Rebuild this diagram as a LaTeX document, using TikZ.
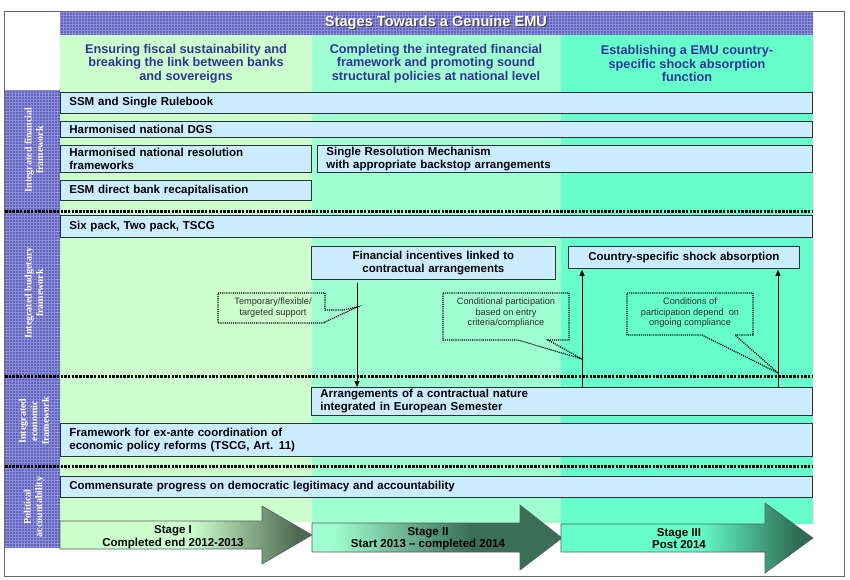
\documentclass[tikz,border=0pt]{standalone}
\usepackage{fontspec}
\setmainfont{Liberation Sans}
\newfontfamily\serifb{Liberation Serif}
\usetikzlibrary{arrows.meta,calc}

\definecolor{colA}{RGB}{204,255,204}
\definecolor{colB}{RGB}{160,255,208}
\definecolor{colC}{RGB}{102,255,204}
\definecolor{boxblue}{RGB}{204,236,255}
\definecolor{purp}{RGB}{98,98,192}
\definecolor{purpline}{RGB}{140,140,215}
\definecolor{headblue}{RGB}{51,51,153}
\definecolor{darkA}{RGB}{80,105,82}
\definecolor{darkB}{RGB}{58,110,86}
\definecolor{darkC}{RGB}{45,108,84}
\definecolor{edge}{RGB}{40,50,60}
\definecolor{calltext}{RGB}{45,45,45}

\pgfdeclarehorizontalshading{stageIsh}{100bp}{color(0bp)=(colA); color(51bp)=(colA); color(72bp)=(darkA); color(100bp)=(darkA)}
\pgfdeclarehorizontalshading{stageIIsh}{100bp}{color(0bp)=(colB); color(29bp)=(colB); color(57bp)=(darkB); color(100bp)=(darkB)}
\pgfdeclarehorizontalshading{stageIIIsh}{100bp}{color(0bp)=(colC); color(52bp)=(colC); color(72bp)=(darkC); color(100bp)=(darkC)}

\begin{document}
\begin{tikzpicture}[x=1pt,y=-1pt,
  box/.style={draw=edge, line width=0.8pt, fill=boxblue, anchor=north west,
    inner xsep=9pt, inner ysep=0pt, align=left,
    font=\fontsize{11.5}{13}\selectfont\bfseries},
  cbox/.style={box, align=center},
  headtext/.style={align=center, text=headblue,
    font=\fontsize{12.7}{13.6}\selectfont\bfseries},
  sidelabel/.style={rotate=90, align=center, text=white,
    font=\serifb\bfseries\fontsize{10}{11.5}\selectfont},
  dotline/.style={line width=3pt, dash pattern=on 2.5pt off 1.2pt},
  callout/.style={line width=1.2pt, dash pattern=on 1.1pt off 1pt, draw=black},
  calltxt/.style={align=center, text=calltext,
    font=\fontsize{9.2}{10.5}\selectfont},
  conn/.style={line width=1pt, -{Triangle[length=6pt,width=5pt]}},
  stagearrow/.style={draw=edge!80, line width=0.6pt},
  stagetext/.style={align=center, font=\fontsize{11.5}{12.5}\selectfont\bfseries}
]
\useasboundingbox (0,0) rectangle (850,579);
\fill[white] (0,0) rectangle (850,579);

% column backgrounds
\fill[colA] (60,35) rectangle (312,522);
\fill[colB] (312,35) rectangle (561,523);
\fill[colC] (561,35) rectangle (813,524);

% purple bands with grid
\fill[purp] (60,11) rectangle (813,35);
\fill[purp] (5,90) rectangle (60,548);
\begin{scope}
  \clip (60,11) rectangle (813,35);
  \draw[purpline, line width=0.45pt, step=3pt] (60,35) grid (813,11);
\end{scope}
\begin{scope}
  \clip (5,90) rectangle (60,548);
  \draw[purpline, line width=0.45pt, step=3pt] (5,548) grid (60,90);
\end{scope}

% outer frame
\draw[black!60, line width=0.8pt] (4,11) rectangle (844,576);

% title
\node[text=black!75, font=\fontsize{14.6}{16}\selectfont\bfseries] (titleshadow) at (437.2,24.2) {Stages Towards a Genuine EMU};
\node[text=white, font=\fontsize{14.6}{16}\selectfont\bfseries] (title) at (436,23) {Stages Towards a Genuine EMU};

% column headers
\node[headtext] (h1) at (186,63.5) {Ensuring fiscal sustainability and\\breaking the link between banks\\and sovereigns};
\node[headtext] (h2) at (436,63.5) {Completing the integrated financial\\framework and promoting sound\\structural policies at national level};
\node[headtext] (h3) at (687,63.5) {Establishing a EMU country-\\specific shock absorption\\function};

% separators
\draw[dotline] (5,211) -- (813,211);
\draw[dotline] (5,376) -- (813,376);
\draw[dotline] (5,466) -- (813,466);

% side labels
\node[sidelabel] (lfin) at (34,150) {Integrated financial\\framework};
\node[sidelabel] (lbud) at (34,293) {Integrated budgetary\\framework};
\node[sidelabel] (leco) at (34,421) {Integrated\\economic\\framework};
\node[sidelabel] (lpol) at (34,507) {Political\\accountability};

% boxes
\node[box, text width=734pt, minimum height=21pt] (ssm) at (60,92) {SSM and Single Rulebook};
\node[box, text width=734pt, minimum height=16pt] (dgs) at (60,121) {Harmonised national DGS};
\node[box, text width=233pt, minimum height=27pt] (hnr) at (60,145) {Harmonised national resolution\\frameworks};
\node[box, text width=477pt, minimum height=27pt] (srm) at (317,145) {Single Resolution Mechanism\\with appropriate backstop arrangements};
\node[box, text width=233pt, minimum height=20pt] (esm) at (60,180) {ESM direct bank recapitalisation};
\node[box, text width=734pt, minimum height=22pt] (six) at (60,215) {Six pack, Two pack, TSCG};
\node[cbox, text width=226pt, minimum height=33pt] (fin) at (311,246) {Financial incentives linked to\\contractual arrangements};
\node[cbox, text width=213pt, minimum height=22pt] (csa) at (568,246) {Country-specific shock absorption};
\node[box, text width=483pt, minimum height=28pt] (arr) at (311,387) {Arrangements of a contractual nature\\integrated in European Semester};
\node[box, text width=734pt, minimum height=33pt] (fea) at (60,423) {Framework for ex-ante coordination of\\economic policy reforms (TSCG, Art. 11)};
\node[box, text width=734pt, minimum height=21pt] (com) at (60,476) {Commensurate progress on democratic legitimacy and accountability};

% connectors
\coordinate (xa) at (357,0);
\coordinate (xb) at (582,0);
\coordinate (xc) at (778,0);
\draw[conn] ($(xa |- fin.south)+(0,3)$) -- (xa |- arr.north);
\draw[conn] (xb |- arr.north) -- ($(xb |- csa.south)+(0,1)$);
\draw[conn] (xc |- arr.north) -- ($(xc |- csa.south)+(0,1)$);

% callouts
\draw[callout] (218,293) -- (325,293) -- (325,310) -- (343,310) -- (357,307) -- (325,322) -- (325,323) -- (218,323) -- cycle;
\node[calltxt] (ct1) at (273,307.5) {Temporary/flexible/\\targeted support};
\draw[callout] (443,293) -- (569,293) -- (569,340) -- (548,340) -- (582,359) -- (518,340) -- (443,340) -- cycle;
\node[calltxt] (ct2) at (506,313) {Conditional participation\\based on entry\\criteria/compliance};
\draw[callout] (627,293) -- (753,293) -- (753,335) -- (735,335) -- (778,373) -- (702,335) -- (627,335) -- cycle;
\node[calltxt] (ct3) at (690,313) {Conditions of\\participation depend~ on\\ongoing compliance};

% stage arrows
\shadedraw[shading=stageIsh, stagearrow] (60,521) -- (262,521) -- (262,506) -- (312,535) -- (262,564) -- (262,549) -- (60,549) -- cycle;
\shadedraw[shading=stageIIsh, stagearrow] (312,523) -- (520,523) -- (520,505) -- (562,538) -- (520,570) -- (520,552) -- (312,552) -- cycle;
\shadedraw[shading=stageIIIsh, stagearrow] (561,524) -- (765,524) -- (765,503) -- (813,538) -- (765,573) -- (765,552) -- (561,552) -- cycle;
\node[stagetext] (s1) at (173,537) {Stage I\\Completed end 2012-2013};
\node[stagetext] (s2) at (428,538.5) {Stage II\\Start 2013 -- completed 2014};
\node[stagetext] (s3) at (679,538.5) {Stage III\\Post 2014};
\end{tikzpicture}
\end{document}
